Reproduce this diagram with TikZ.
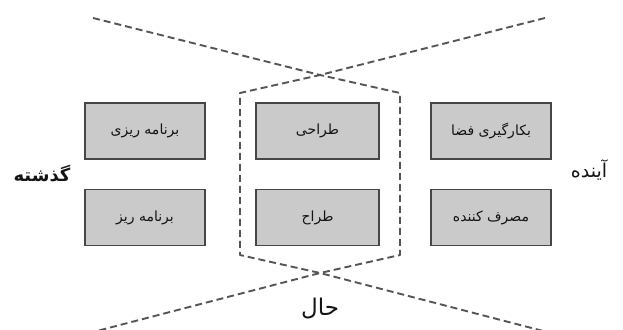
\documentclass[tikz,border=0pt]{standalone}
\usepackage{fontspec}
\TeXXeTstate=1
\newfontfamily\arabicfont[Script=Arabic]{DejaVu Sans}
\definecolor{boxfill}{RGB}{202,202,202}
\definecolor{boxline}{RGB}{70,70,70}
\definecolor{dashcol}{RGB}{85,85,85}
\definecolor{txtcol}{RGB}{20,20,20}
\begin{document}
\begin{tikzpicture}[x=1pt,y=-1pt,
  box/.style={draw=boxline, fill=boxfill, line width=1.4pt, minimum width=120pt,
    minimum height=56pt, inner sep=0pt, text=txtcol, font=\arabicfont\fontsize{14}{16}\selectfont},
  timelabel/.style={inner sep=0pt, text=txtcol},
  dashline/.style={draw=dashcol, line width=1.9pt, dash pattern=on 7pt off 4pt, line join=round}]
\useasboundingbox (0,0) rectangle (623,329);
% boxes
\node[box] (b1) at (145,131) {\beginR برنامه ریزی\endR};
\node[box] (b2) at (145,217.5) {\beginR برنامه ریز\endR};
\node[box, minimum width=123pt] (b3) at (317.5,131) {\beginR طراحی\endR};
\node[box, minimum width=123pt] (b4) at (317.5,217.5) {\beginR طراح\endR};
\node[box] (b5) at (491,131) {\beginR بکارگیری فضا\endR};
\node[box] (b6) at (491,217.5) {\beginR مصرف کننده\endR};
% labels
\node[timelabel, font=\arabicfont\bfseries\fontsize{18}{20}\selectfont] (past) at (42,174) {\beginR گذشته\endR};
\node[timelabel, font=\arabicfont\fontsize{19}{22}\selectfont] (future) at (589,170) {\beginR آینده\endR};
\node[timelabel, font=\arabicfont\fontsize{23}{26}\selectfont] (now) at (320,309) {\beginR حال\endR};
% dashed hourglass lines
\coordinate (tl) at (93,18);
\coordinate (tr) at (545,18);
\coordinate (ct) at (320,75);
\coordinate (cb) at (320,273);
\coordinate (bl) at (93,332);
\coordinate (br) at (547,332);
\coordinate (rt) at (400,93);
\coordinate (rb) at (400,255);
\coordinate (lt) at (240,93);
\coordinate (lb) at (240,255);
\draw[dashline] (tl) -- (ct) -- (rt) -- (rb) -- (cb) -- (bl);
\draw[dashline] (tr) -- (ct) -- (lt) -- (lb) -- (cb) -- (br);
\end{tikzpicture}
\end{document}
